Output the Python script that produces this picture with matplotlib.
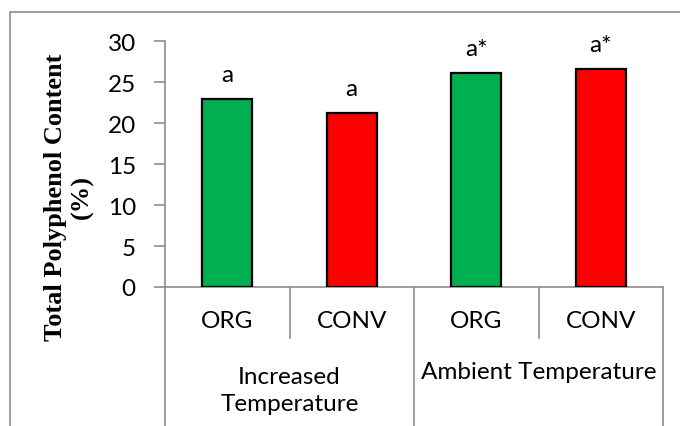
import matplotlib.pyplot as plt
import matplotlib.transforms as mtransforms
from matplotlib.patches import Rectangle

# datos
categorias = ["ORG", "CONV", "ORG", "CONV"]
grupos = ["Increased\nTemperature", "Ambient Temperature"]
valores = [22.95, 21.2, 26.1, 26.6]
letras = ["a", "a", "a*", "a*"]
colores = ["#00B050", "#FF0000", "#00B050", "#FF0000"]

W, H = 680, 427
fig = plt.figure(figsize=(W / 100, H / 100), dpi=100)
ax = fig.add_axes([165 / W, (H - 288) / H, (663 - 165) / W, (288 - 42.3) / H])

sans = "Lato"
fs = 17.5
gris = "#8c8c8c"

x = list(range(len(valores)))
ax.bar(x, valores, width=0.40, color=colores, edgecolor="black", linewidth=1.6, zorder=3)
for xi, v, t in zip(x, valores, letras):
    ax.text(xi, v + 2.2, t, ha="center", va="baseline", fontsize=fs, family=sans)

ax.set_xlim(-0.5, 3.5)
ax.set_ylim(0, 30)
ax.set_yticks(range(0, 31, 5))
ax.set_yticklabels([str(v) for v in range(0, 31, 5)], family=sans, fontsize=fs)
ax.tick_params(axis="y", length=8, width=1.2, color=gris, pad=13)
ax.set_xticks([])
for s in ["top", "right"]:
    ax.spines[s].set_visible(False)
ax.spines["left"].set_color(gris)
ax.spines["left"].set_linewidth(1.2)
ax.spines["bottom"].set_color(gris)
ax.spines["bottom"].set_linewidth(1.2)

# eje categórico agrupado
tr = mtransforms.blended_transform_factory(ax.transData, ax.transAxes)
for b in [0.5, 2.5]:
    ax.plot([b, b], [0, -0.2076], color=gris, lw=1.2, transform=tr, clip_on=False)
for b in [-0.5, 1.5, 3.5]:
    ax.plot([b, b], [0, -0.62], color=gris, lw=1.2, transform=tr, clip_on=False)
for xi, c in zip(x, categorias):
    ax.text(xi, -34 / 245.7, c, ha="center", va="center", fontsize=fs,
            family=sans, transform=tr)
ax.text(0.5, -(391 - 288) / 245.7, grupos[0], ha="center", va="center",
        fontsize=fs, family=sans, transform=tr, linespacing=1.35)
ax.text(2.5, -(373 - 288) / 245.7, grupos[1], ha="center", va="center",
        fontsize=fs, family=sans, transform=tr)

# etiqueta y
fig.text(69 / W, 1 - 197 / H, "Total Polyphenol Content\n(%)", rotation=90,
         ha="center", va="center", fontsize=19, fontweight="bold",
         family="Liberation Serif", linespacing=1.2)

# marco exterior
fig.patches.append(Rectangle((10 / W, -0.1), 1.2, 1 - 13 / H + 0.1,
                             transform=fig.transFigure, fill=False,
                             edgecolor=gris, linewidth=1.2))

fig.savefig("out.png", dpi=100)
